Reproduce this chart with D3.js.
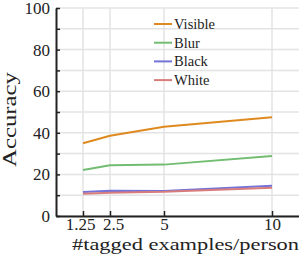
<!DOCTYPE html>
<html>
<head>
<meta charset="utf-8">
<script src="https://cdn.jsdelivr.net/npm/d3@7"></script>
<style>
  body { margin: 0; background: #fff; }
  svg { display: block; }
  svg text { font-family: "Liberation Serif", "Times New Roman", serif; }
  .grid line { stroke: #e3e3e3; stroke-width: 1.5; }
  .axis path, .axis line { stroke: #222; }
  .axis path { stroke-width: 2; }
  .axis line { stroke-width: 1.5; }
  .axis text { font-size: 17px; fill: #222; }
</style>
</head>
<body>
<svg id="chart" width="299" height="257"></svg>
<script>
var examples = [1.25, 2.5, 5, 10];
var visible = [35, 38.6, 42.9, 47.5];
var blur = [22.1, 24.4, 24.7, 28.8];
var black = [11.5, 12.1, 12.0, 14.6];
var white = [10.7, 11.2, 11.6, 13.6];
var yTicks = [0, 20, 40, 60, 80, 100];
var yMinor = [0, 10, 20, 30, 40, 50, 60, 70, 80, 90, 100];

var series = [
  { name: 'Visible', values: visible, color: '#df8a1f' },
  { name: 'Blur', values: blur, color: '#72bd72' },
  { name: 'Black', values: black, color: '#7373d8' },
  { name: 'White', values: white, color: '#d97c7c' }
];

var serif = '"Liberation Serif", "Times New Roman", serif';
var svg = d3.select('#chart');
var x = d3.scaleLinear().domain([0, 11.25]).range([56, 299]);
var y = d3.scaleLinear().domain([0, 100]).range([216, 8]);

// grid
var grid = svg.append('g').classed('grid', true);
grid.selectAll('.h').data(yMinor).enter().append('line')
  .attr('x1', x(0)).attr('x2', 299)
  .attr('y1', function(d) { return y(d) }).attr('y2', function(d) { return y(d) });
grid.selectAll('.v').data(examples).enter().append('line')
  .attr('x1', function(d) { return x(d) }).attr('x2', function(d) { return x(d) })
  .attr('y1', y(0)).attr('y2', y(100));

// lines
var line = d3.line()
  .x(function(d, i) { return x(examples[i]) })
  .y(function(d) { return y(d) });

svg.selectAll('path.series').data(series).enter().append('path')
  .classed('series', true)
  .attr('fill', 'none')
  .attr('stroke', function(s) { return s.color })
  .attr('stroke-width', 2)
  .attr('d', function(s) { return line(s.values) });

// axes, ticks pointing inward
var yAxis = d3.axisLeft(y).tickValues(yMinor).tickSizeInner(-4).tickSizeOuter(0).tickPadding(6)
  .tickFormat(function(d) { return yTicks.indexOf(d) >= 0 ? d : '' });
svg.append('g').classed('axis', true)
  .attr('transform', 'translate(' + x(0) + ',0)')
  .call(yAxis)
  .attr('font-family', serif);

var xAxis = d3.axisBottom(x).tickValues(examples).tickSizeInner(-5).tickSizeOuter(0).tickPadding(2)
  .tickFormat(function(d) { return d });
var gx = svg.append('g').classed('axis', true)
  .attr('transform', 'translate(0,' + y(0) + ')')
  .call(xAxis)
  .attr('font-family', serif);
// the two crowded labels sit a little apart
gx.selectAll('text').attr('dx', function(d) { return d == 1.25 ? -3 : d == 2.5 ? 3 : 0 });

// axis labels
svg.append('text')
  .attr('x', 72).attr('y', 250)
  .attr('font-size', 17)
  .attr('fill', '#222')
  .attr('textLength', 227)
  .attr('lengthAdjust', 'spacingAndGlyphs')
  .text('#tagged examples/person');

svg.append('text')
  .attr('transform', 'translate(16,167) rotate(-90)')
  .attr('font-size', 18)
  .attr('fill', '#222')
  .attr('textLength', 95)
  .attr('lengthAdjust', 'spacingAndGlyphs')
  .text('Accuracy');

// legend
var legend = svg.append('g').selectAll('g').data(series).enter().append('g')
  .attr('transform', function(s, i) { return 'translate(154,' + (24 + i * 18.7) + ')' });
legend.append('line')
  .attr('x1', 0).attr('x2', 18)
  .attr('stroke', function(s) { return s.color })
  .attr('stroke-width', 2);
legend.append('text')
  .attr('x', 20).attr('dy', '0.35em')
  .attr('font-size', 14.5)
  .attr('fill', '#222')
  .text(function(s) { return s.name });
</script>
</body>
</html>
